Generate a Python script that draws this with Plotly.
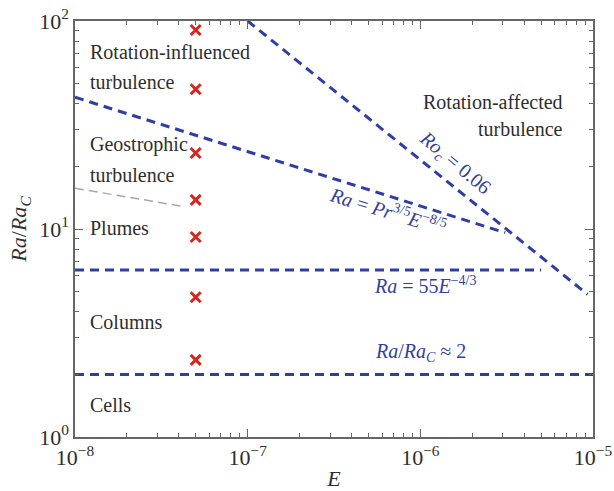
import numpy as np
import plotly.graph_objects as go

## ---- data ----
E_runs = [5e-8, 5e-8, 5e-8, 5e-8, 5e-8, 5e-8, 5e-8]
RaRc_runs = [90.5, 47.0, 23.2, 13.8, 9.15, 4.7, 2.35]

# regime boundaries (endpoints)
E_roc = [1e-7, 9.3e-6]
RaRc_roc = [100, 4.85]
E_pr = [1e-8, 3.1e-6]
RaRc_pr = [43.0, 9.6]
E_55 = [1e-8, 5e-6]
RaRc_55 = [6.35, 6.35]
E_two = [1e-8, 1e-5]
RaRc_two = [2.0, 2.0]
E_grey = [1e-8, 4.1e-8]
RaRc_grey = [15.7, 12.9]

xticks = [1e-8, 1e-7, 1e-6, 1e-5]
xticktext = ['10<sup>−8</sup>', '10<sup>−7</sup>', '10<sup>−6</sup>', '10<sup>−5</sup>']
yticks = [1, 10, 100]
yticktext = ['10<sup>0</sup>', '10<sup>1</sup>', '10<sup>2</sup>']

BLUE = '#2f3ea6'
FONT = 'Liberation Serif'

fig = go.Figure()

def dashed(x, y, color=BLUE, width=3, dash='9px,6px'):
    fig.add_trace(go.Scatter(x=x, y=y, mode='lines',
                             line=dict(color=color, width=width, dash=dash),
                             showlegend=False, hoverinfo='skip'))

dashed(E_roc, RaRc_roc)
dashed(E_pr, RaRc_pr)
dashed(E_55, RaRc_55)
dashed(E_two, RaRc_two)
dashed(E_grey, RaRc_grey, color='#a8a8a8', width=1.5, dash='9px,5px')

fig.add_trace(go.Scatter(x=E_runs, y=RaRc_runs, mode='markers',
                         marker=dict(symbol='x-thin', size=10,
                                     line=dict(color='#d7261e', width=3)),
                         showlegend=False))

## ---- region labels ----
black_labels = [
    ('Rotation-influenced', -7.925, 1.851),
    ('turbulence', -7.925, 1.707),
    ('Geostrophic', -7.925, 1.404),
    ('turbulence', -7.925, 1.26),
    ('Plumes', -7.925, 1.005),
    ('Columns', -7.925, 0.553),
    ('Cells', -7.925, 0.154),
]
for txt, x, y in black_labels:
    fig.add_annotation(x=x, y=y, text=txt, showarrow=False, xanchor='left',
                       yanchor='middle', font=dict(family=FONT, size=20, color='#2e2e2e'))

for txt, y in [('Rotation-affected', 1.611), ('turbulence', 1.481)]:
    fig.add_annotation(x=-5.163, y=y, text=txt, showarrow=False, xanchor='right',
                       yanchor='middle', font=dict(family=FONT, size=20, color='#2e2e2e'))

blue_labels = [
    ('<i>Ro<sub>c</sub></i> = 0.06', -5.80, 1.317, 40),
    ('<i>Ra</i> = <i>Pr</i><sup>3/5</sup><i>E</i><sup>−8/5</sup>', -6.188, 1.091, 17),
    ('<i>Ra</i> = 55<i>E</i><sup>−4/3</sup>', -5.973, 0.731, 0),
    ('<i>Ra</i>/<i>Ra<sub>C</sub></i> ≈ 2', -5.998, 0.404, 0),
]
for txt, x, y, ang in blue_labels:
    fig.add_annotation(x=x, y=y, text=txt, showarrow=False, textangle=ang,
                       xanchor='center', yanchor='middle',
                       font=dict(family=FONT, size=20, color='#3440a0'))

axis_style = dict(type='log', showgrid=False, zeroline=False, automargin=False,
                  showline=True, linecolor='#666666', linewidth=1.5,
                  mirror='ticks', ticks='inside', ticklen=8, tickwidth=1,
                  tickcolor='#666666',
                  tickfont=dict(family=FONT, size=22, color='#2e2e2e'))

fig.update_xaxes(**axis_style, range=[-8, -5], tickmode='array',
                 tickvals=xticks, ticktext=xticktext,
                 minor=dict(ticks='inside', ticklen=4, tickcolor='#666666',
                            tickvals=[m * 10.0 ** k for k in range(-8, -5) for m in range(2, 10)]),
                 title=dict(text='<i>E</i>', font=dict(family=FONT, size=22, color='#2e2e2e'),
                            standoff=4))
fig.update_yaxes(**axis_style, range=[0, 2], tickmode='array',
                 tickvals=yticks, ticktext=yticktext,
                 minor=dict(ticks='inside', ticklen=4, tickcolor='#666666',
                            tickvals=[m * 10.0 ** k for k in range(0, 2) for m in range(2, 10)]),
                 title=dict(text='<i>Ra</i>/<i>Ra<sub>C</sub></i>',
                            font=dict(family=FONT, size=22, color='#2e2e2e'), standoff=6))

fig.update_layout(width=614, height=491,
                  margin=dict(l=75, r=21, t=21, b=54),
                  plot_bgcolor='white', paper_bgcolor='white',
                  font=dict(family=FONT))

# drop the browser's default body margin so the figure sits at the page corner
fig.write_html("out.html", config={'displayModeBar': False},
               post_script="document.body.style.margin='0';document.body.style.overflow='hidden';")
